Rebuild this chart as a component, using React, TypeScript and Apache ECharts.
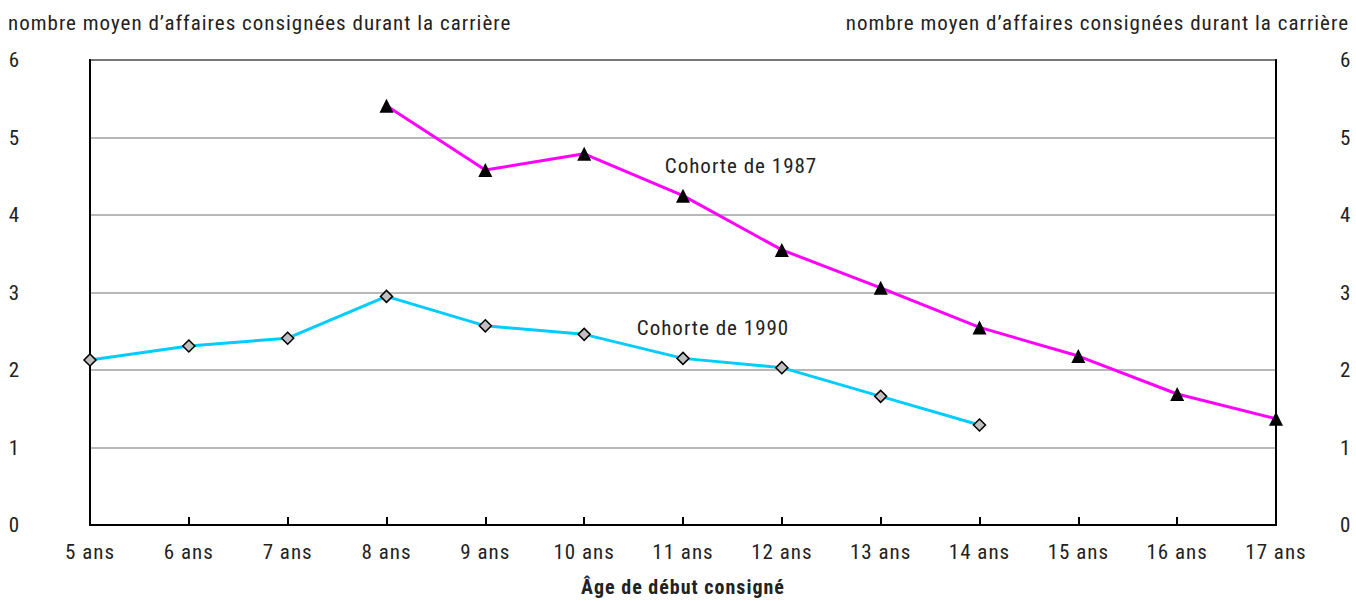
import React, { useEffect, useRef } from "react";
import * as echarts from "echarts";

const categories = ["5 ans", "6 ans", "7 ans", "8 ans", "9 ans", "10 ans", "11 ans", "12 ans", "13 ans", "14 ans", "15 ans", "16 ans", "17 ans"];
const cohort1987 = [null, null, null, 5.41, 4.58, 4.79, 4.25, 3.55, 3.06, 2.55, 2.18, 1.69, 1.37];
const cohort1990 = [2.13, 2.31, 2.41, 2.95, 2.57, 2.46, 2.15, 2.03, 1.66, 1.29, null, null, null];
const yTicks = [0, 1, 2, 3, 4, 5, 6];
const yTitle = "nombre moyen d\u2019affaires consignées durant la carrière";
const xTitle = "Âge de début consigné";

const FONT = "'Liberation Sans Narrow', 'Arial Narrow', 'Roboto Condensed', 'Liberation Sans', sans-serif";
const TXT = "#222222";
const FS = 21;

export default function App() {
  const ref = useRef<HTMLDivElement>(null);
  useEffect(() => {
    const chart = echarts.init(ref.current!, null, { renderer: "svg" });
    chart.setOption({
      animation: false,
      backgroundColor: "#ffffff",
      textStyle: { fontFamily: FONT },
      grid: {
        left: 90, right: 80, top: 60, bottom: 76,
        containLabel: false, outerBoundsMode: "none",
        show: true, borderColor: "#000", borderWidth: 2, backgroundColor: "transparent",
      },
      xAxis: {
        type: "category",
        data: categories,
        boundaryGap: false,
        axisLine: { lineStyle: { color: "#000", width: 2 } },
        axisTick: { inside: true, length: 8, lineStyle: { color: "#000", width: 2 } },
        axisLabel: { color: TXT, fontSize: FS, fontFamily: FONT, margin: 16 },
        name: xTitle,
        nameLocation: "middle",
        nameGap: 52,
        nameTextStyle: { color: TXT, fontSize: 20, fontWeight: "bold", fontFamily: FONT },
        splitLine: { show: false },
      },
      yAxis: [
        {
          type: "value", min: yTicks[0], max: yTicks[yTicks.length - 1], interval: 1,
          axisLine: { show: true, lineStyle: { color: "#000", width: 2 } },
          axisTick: { show: false },
          axisLabel: { color: TXT, fontSize: FS, fontFamily: FONT, margin: 70 },
          splitLine: { lineStyle: { color: "#a0a0a0", width: 1.5 } },
        },
        {
          type: "value", min: yTicks[0], max: yTicks[yTicks.length - 1], interval: 1, position: "right",
          axisLine: { show: true, lineStyle: { color: "#000", width: 2 } },
          axisTick: { show: false },
          axisLabel: { color: TXT, fontSize: FS, fontFamily: FONT, margin: 64 },
          splitLine: { show: false },
        },
      ],
      series: [
        {
          name: "Cohorte de 1987",
          type: "line",
          data: cohort1987,
          lineStyle: { color: "#ff00ff", width: 3 },
          itemStyle: { color: "#000", borderColor: "#000", borderWidth: 0 },
          symbol: "triangle",
          symbolSize: 14,
          z: 3,
        },
        {
          name: "Cohorte de 1990",
          type: "line",
          data: cohort1990,
          lineStyle: { color: "#00ccff", width: 3 },
          itemStyle: { color: "#c0c0c0", borderColor: "#000", borderWidth: 1.5 },
          symbol: "diamond",
          symbolSize: 12,
          z: 3,
        },
      ],
      graphic: [
        { type: "text", x: 8, y: 23, style: { text: yTitle, fill: TXT, font: `${FS}px ${FONT}`, align: "left", verticalAlign: "middle" } },
        { type: "text", x: 1349, y: 23, style: { text: yTitle, fill: TXT, font: `${FS}px ${FONT}`, align: "right", verticalAlign: "middle" } },
        { type: "text", x: 741, y: 166, style: { text: "Cohorte de 1987", fill: TXT, font: `${FS}px ${FONT}`, align: "center", verticalAlign: "middle" } },
        { type: "text", x: 713, y: 328, style: { text: "Cohorte de 1990", fill: TXT, font: `${FS}px ${FONT}`, align: "center", verticalAlign: "middle" } },
      ],
    });
    return () => chart.dispose();
  }, []);
  return (
    <>
      <style>{`.ref-chart svg text { letter-spacing: 1px; }`}</style>
      <div className="ref-chart" ref={ref} style={{ width: 1356, height: 601, position: "absolute", left: 0, top: 0 }} />
    </>
  );
}
